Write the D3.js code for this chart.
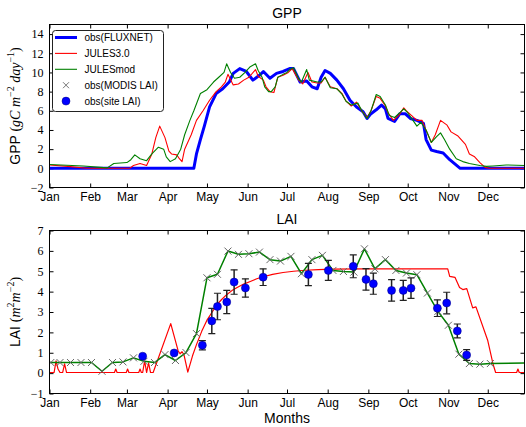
<!DOCTYPE html>
<html>
<head>
<meta charset="utf-8">
<script src="https://d3js.org/d3.v7.min.js"></script>
<style>
  body { margin: 0; background: #fff; }
  svg text { font-family: "Liberation Sans", Arial, sans-serif; fill: #000; }
  .xtick text { font-size: 12px; }
  .ytick text { font-family: "Liberation Serif", serif; font-size: 12px; }
  .tick line { stroke: #000; }
</style>
</head>
<body>
<script>
// month ticks (day of year, 0 = Jan 1)
var monthNames = ["Jan","Feb","Mar","Apr","May","Jun","Jul","Aug","Sep","Oct","Nov","Dec"];
var monthStarts = [0,31,59,90,120,151,181,212,243,273,304,334];
var gppTicks = [-2,0,2,4,6,8,10,12,14];
var laiTicks = [-1,0,1,2,3,4,5,6,7];

// GPP, obs(FLUXNET)
var fluxDays = [0,110,112,115,118,122,127,132,137,140,145,150,155,160,163,168,173,178,183,186,191,196,200,204,207,210,214,219,224,229,234,239,242,245,249,253,256,258,263,267,271,275,280,285,287,291,295,300,305,313,362];
var fluxGpp  = [0,0,1.5,3,4.4,6.4,7.8,8.3,9.0,9.9,10.4,10.1,9.2,9.7,10.1,9.4,9.9,10.1,10.4,10.4,9.0,9.1,8.5,8.3,9.5,10.2,9.9,9.2,8.3,7.1,6.4,5.9,5.2,5.7,6.1,6.6,6.2,5.2,4.9,5.7,5.7,5.2,5.0,4.7,3.0,1.9,1.75,1.6,0.9,0,0];

// GPP, JULES3.0
var jules30Days = [0,14,28,61,64,69,74,78,81,84,88,91,93,97,99,101,103,108,112,117,122,127,131,134,136,140,144,148,152,157,159,163,165,168,171,174,178,182,185,190,193,197,200,204,207,210,214,219,223,226,230,234,238,242,245,249,252,256,258,262,266,270,272,276,280,284,286,291,294,298,303,306,311,317,320,324,328,332,335,362];
var jules30Gpp  = [0.35,0.2,0,0,0.3,0.5,0.3,1.5,3.2,4.4,3.2,1.8,1.5,1.4,1.0,0.7,2.0,3.5,5.0,6.0,7.1,8.0,8.5,9.0,9.8,8.7,8.8,9.2,9.5,10.3,9.6,9.2,8.5,8.0,7.9,9.5,9.7,10.0,10.4,9.2,8.8,10.0,9.0,8.9,8.9,9.5,8.5,8.3,7.8,7.0,6.5,6.9,6.0,5.3,6.0,7.5,7.3,6.5,5.8,5.0,5.5,6.3,6.0,5.5,5.0,5.0,4.3,2.7,3.5,5.0,4.5,3.8,3.4,2.5,1.5,1.2,0.6,0.1,0,0];

// GPP, JULESmod
var julesModDays = [0,26,39,44,49,59,62,65,69,74,78,83,87,89,92,96,100,103,107,110,115,120,125,129,133,135,138,141,145,149,153,157,159,162,164,167,169,172,174,178,181,183,186,190,192,196,198,204,207,210,214,219,223,226,230,235,238,242,245,249,252,256,259,263,267,270,273,277,280,283,287,291,295,298,301,305,310,315,320,328,333,338,348,362];
var julesModGpp  = [0.4,0.25,0.1,0.05,0.5,0.6,0.9,1.4,1.0,0.8,1.5,2.2,2.0,1.2,0.7,1.0,2.0,3.5,5.0,6.0,7.8,8.2,9.0,9.5,10.0,10.9,10.0,9.4,9.5,10.0,10.6,10.9,10.2,9.5,8.5,8.0,8.0,8.5,9.5,9.8,10.0,10.3,10.5,9.3,9.0,10.3,9.2,9.0,9.0,9.5,8.4,8.3,7.7,7.0,6.6,6.8,6.0,5.2,6.0,7.7,7.5,6.6,5.5,5.3,5.8,6.2,5.8,5.0,4.4,4.8,4.0,2.7,3.3,3.7,3.0,2.0,1.0,0.7,0.5,0.3,0.2,0.25,0.35,0.3];

// LAI, obs(MODIS LAI) 8-day values (JULESmod follows them)
var modisDays = [1,8,16,24,32,40,48,56,64,72,80,88,96,104,112,120,128,136,144,152,160,168,176,184,192,200,208,216,224,232,240,248,256,264,272,280,288,296,304,312,320,328,336];
var modisLai  = [0.52,0.52,0.52,0.52,0.52,0.09,0.52,0.55,0.75,0.58,0.52,0.91,0.62,1.01,1.94,4.68,4.85,5.99,5.83,5.86,5.94,5.57,5.50,5.73,4.88,5.57,5.78,5.04,4.99,4.96,6.10,5.12,5.57,5.04,4.91,4.83,3.93,3.03,2.35,0.93,0.47,0.44,0.47];
var julesModLaiStart = [0, 0.52];
var julesModLaiEnd = [362, 0.5];

// LAI, JULES3.0
var jules30LaiDays = [0,3.5,5,6.5,8,10,11.5,13,49.5,50.5,51.5,58.5,59.5,60.5,68,69,70,71,72.5,74,75.5,77,79,92.4,98,99.5,101,102.5,105.4,109,112,116,120,124,127.5,131,135,139,143,148,153,158,163,170,178,186,195,205,215,240,303.5,305,309,312.5,315,318,322.5,325,334,338,340,356,357,358,362];
var jules30Lai     = [0.03,0.03,0.6,0.2,0.03,0.03,0.45,0.03,0.03,0.2,0.03,0.03,0.2,0.03,0.03,0.2,0.03,0.03,0.6,0.03,0.5,0.03,0.03,2.43,1.1,0.95,1.05,0.9,0.05,0.85,1.4,2.05,2.6,3.0,3.35,3.6,3.85,4.05,4.2,4.37,4.5,4.63,4.73,4.85,4.94,5.0,5.05,5.08,5.1,5.12,5.12,4.75,4.7,4.2,4.1,4.15,3.2,3.25,1.6,0.45,0.03,0.03,0.2,0.03,0.03];

// LAI, obs(site LAI) with error bars
var siteDays = [71,95,116.5,123.7,128,135.1,140.7,149.3,162.8,197.3,212.5,231.5,241.2,246.8,260.7,269.6,275.5,295.6,302.7,310.8,317.9];
var siteLai  = [0.83,0.99,1.37,2.56,3.27,3.49,4.47,4.18,4.71,4.84,5.04,5.24,4.6,4.39,4.06,4.06,4.17,3.19,3.44,2.07,0.89];
var siteErr  = [0,0,0.23,0.62,0.65,0.57,0.6,0.45,0.41,0.55,0.49,0.56,0.53,0.52,0.53,0.49,0.5,0.41,0.53,0.34,0.26];

var width = 526, height = 427;
var svg = d3.select("body").append("svg").attr("width", width).attr("height", height);

var x = d3.scaleLinear().domain([0, 362]).range([49.5, 524.5]);
var yG = d3.scaleLinear().domain([-2, 15]).range([187.5, 24.5]);
var yL = d3.scaleLinear().domain([-1, 7]).range([393.5, 230.5]);

function pairs(xs, ys) { return xs.map(function(d, i) { return [d, ys[i]]; }); }

function panel(y, ticks, id) {
  var g = svg.append("g");
  var x0 = x.range()[0], x1 = x.range()[1], y0 = y.range()[1], y1 = y.range()[0];
  svg.append("clipPath").attr("id", id).append("rect")
     .attr("x", x0).attr("y", y0).attr("width", x1 - x0).attr("height", y1 - y0);

  g.append("g").attr("class", "xtick").attr("transform", "translate(0," + y1 + ")")
   .call(d3.axisBottom(x).tickValues(monthStarts).tickFormat(function(d, i) { return monthNames[i]; }).tickSize(-4).tickPadding(5));
  g.append("g").attr("transform", "translate(0," + y0 + ")")
   .call(d3.axisTop(x).tickValues(monthStarts).tickFormat("").tickSize(-4));
  g.append("g").attr("class", "ytick").attr("transform", "translate(" + x0 + ",0)")
   .call(d3.axisLeft(y).tickValues(ticks).tickSize(-4).tickPadding(6));
  g.append("g").attr("transform", "translate(" + x1 + ",0)")
   .call(d3.axisRight(y).tickValues(ticks).tickFormat("").tickSize(-4));
  g.selectAll(".domain").remove();

  var plot = svg.append("g").attr("clip-path", "url(#" + id + ")");
  return { g: g, plot: plot, x0: x0, x1: x1, y0: y0, y1: y1 };
}

function frame(p) {
  svg.append("rect").attr("x", p.x0).attr("y", p.y0)
     .attr("width", p.x1 - p.x0).attr("height", p.y1 - p.y0)
     .attr("fill", "none").attr("stroke", "#000").attr("stroke-width", 1);
}

// ---------- GPP ----------
var gppPanel = panel(yG, gppTicks, "clipG");
var lineG = d3.line().x(function(d) { return x(d[0]); }).y(function(d) { return yG(d[1]); });

gppPanel.plot.append("path").datum(pairs(fluxDays, fluxGpp))
   .attr("d", lineG).attr("fill", "none").attr("stroke", "#0000ff").attr("stroke-width", 3).attr("stroke-linejoin", "round");
gppPanel.plot.append("path").datum(pairs(jules30Days, jules30Gpp))
   .attr("d", lineG).attr("fill", "none").attr("stroke", "#ff0000").attr("stroke-width", 1.1).attr("stroke-linejoin", "round");
gppPanel.plot.append("path").datum(pairs(julesModDays, julesModGpp))
   .attr("d", lineG).attr("fill", "none").attr("stroke", "#008000").attr("stroke-width", 1.1).attr("stroke-linejoin", "round");
frame(gppPanel);

svg.append("text").attr("x", 287).attr("y", 18).attr("text-anchor", "middle")
   .style("font-size", "14px").text("GPP");

var ylab1 = svg.append("text").attr("transform", "translate(20," + ((gppPanel.y0 + gppPanel.y1) / 2) + ") rotate(-90)")
   .attr("text-anchor", "middle").style("font-size", "14px");
ylab1.append("tspan").text("GPP ");
ylab1.append("tspan").style("font-family", "Liberation Serif, serif").text("(");
ylab1.append("tspan").style("font-family", "Liberation Serif, serif").style("font-style", "italic").text("gC m");
ylab1.append("tspan").style("font-family", "Liberation Serif, serif").style("font-size", "10px").attr("dy", -6).text("\u22122");
ylab1.append("tspan").style("font-family", "Liberation Serif, serif").style("font-style", "italic").attr("dy", 6).text(" day");
ylab1.append("tspan").style("font-family", "Liberation Serif, serif").style("font-size", "10px").attr("dy", -6).text("\u22121");
ylab1.append("tspan").style("font-family", "Liberation Serif, serif").attr("dy", 6).text(")");

// legend
var leg = svg.append("g");
leg.append("rect").attr("x", 52.5).attr("y", 30.5).attr("width", 111).attr("height", 81).attr("rx", 3)
   .attr("fill", "#fff").attr("stroke", "#222").attr("stroke-width", 1);
var legItems = [
  { name: "obs(FLUXNET)", type: "line", color: "#0000ff", w: 3 },
  { name: "JULES3.0", type: "line", color: "#ff0000", w: 1.1 },
  { name: "JULESmod", type: "line", color: "#008000", w: 1.1 },
  { name: "obs(MODIS LAI)", type: "x" },
  { name: "obs(site LAI)", type: "dot" }
];
legItems.forEach(function(it, i) {
  var cy = 37.5 + i * 15.9;
  if (it.type === "line") {
    leg.append("line").attr("x1", 55).attr("x2", 77).attr("y1", cy).attr("y2", cy)
       .attr("stroke", it.color).attr("stroke-width", it.w);
  } else if (it.type === "x") {
    leg.append("path").attr("d", "M" + (66 - 3) + "," + (cy - 3) + "l6,6M" + (66 - 3) + "," + (cy + 3) + "l6,-6")
       .attr("stroke", "#777").attr("stroke-width", 1);
  } else {
    leg.append("circle").attr("cx", 66).attr("cy", cy).attr("r", 4).attr("fill", "#0000ff").attr("stroke", "#000080").attr("stroke-width", 0.5);
  }
  leg.append("text").attr("x", 84.5).attr("y", cy).attr("dy", "0.35em").style("font-size", "10px").text(it.name);
});

// ---------- LAI ----------
var laiPanel = panel(yL, laiTicks, "clipL");
var lineL = d3.line().x(function(d) { return x(d[0]); }).y(function(d) { return yL(d[1]); });

laiPanel.plot.append("path").datum(pairs(jules30LaiDays, jules30Lai))
   .attr("d", lineL).attr("fill", "none").attr("stroke", "#ff0000").attr("stroke-width", 1.2).attr("stroke-linejoin", "round");

var modLine = [julesModLaiStart].concat(pairs(modisDays, modisLai), [julesModLaiEnd]);
laiPanel.plot.append("path").datum(modLine)
   .attr("d", lineL).attr("fill", "none").attr("stroke", "#008000").attr("stroke-width", 1.5).attr("stroke-linejoin", "round");

laiPanel.plot.selectAll(".mx").data(pairs(modisDays, modisLai)).enter().append("path")
   .attr("d", function(d) {
     var cx = x(d[0]), cy = yL(d[1]);
     return "M" + (cx - 3.5) + "," + (cy - 3.5) + "l7,7M" + (cx - 3.5) + "," + (cy + 3.5) + "l7,-7";
   })
   .attr("stroke", "#666").attr("stroke-width", 1).attr("fill", "none");

var site = siteDays.map(function(d, i) { return { d: d, v: siteLai[i], e: siteErr[i] }; });
var eb = laiPanel.plot.selectAll(".eb").data(site.filter(function(s) { return s.e > 0; })).enter().append("g");
eb.append("line").attr("x1", function(s) { return x(s.d); }).attr("x2", function(s) { return x(s.d); })
  .attr("y1", function(s) { return yL(s.v - s.e); }).attr("y2", function(s) { return yL(s.v + s.e); })
  .attr("stroke", "#222").attr("stroke-width", 1.5);
[-1, 1].forEach(function(sg) {
  eb.append("line").attr("x1", function(s) { return x(s.d) - 3.5; }).attr("x2", function(s) { return x(s.d) + 3.5; })
    .attr("y1", function(s) { return yL(s.v + sg * s.e); }).attr("y2", function(s) { return yL(s.v + sg * s.e); })
    .attr("stroke", "#222").attr("stroke-width", 1.2);
});
laiPanel.plot.selectAll(".dot").data(site).enter().append("circle")
   .attr("cx", function(s) { return x(s.d); }).attr("cy", function(s) { return yL(s.v); })
   .attr("r", 4).attr("fill", "#0000ff").attr("stroke", "#000080").attr("stroke-width", 0.5);
frame(laiPanel);

svg.append("text").attr("x", 287).attr("y", 224).attr("text-anchor", "middle")
   .style("font-size", "14px").text("LAI");
svg.append("text").attr("x", 287).attr("y", 423).attr("text-anchor", "middle")
   .style("font-size", "14px").text("Months");

var ylab2 = svg.append("text").attr("transform", "translate(20," + ((laiPanel.y0 + laiPanel.y1) / 2) + ") rotate(-90)")
   .attr("text-anchor", "middle").style("font-size", "14px");
ylab2.append("tspan").text("LAI ");
ylab2.append("tspan").style("font-family", "Liberation Serif, serif").text("(");
ylab2.append("tspan").style("font-family", "Liberation Serif, serif").style("font-style", "italic").text("m");
ylab2.append("tspan").style("font-family", "Liberation Serif, serif").style("font-size", "10px").attr("dy", -6).text("2");
ylab2.append("tspan").style("font-family", "Liberation Serif, serif").style("font-style", "italic").attr("dy", 6).text("m");
ylab2.append("tspan").style("font-family", "Liberation Serif, serif").style("font-size", "10px").attr("dy", -6).text("\u22122");
ylab2.append("tspan").style("font-family", "Liberation Serif, serif").attr("dy", 6).text(")");
</script>
</body>
</html>
